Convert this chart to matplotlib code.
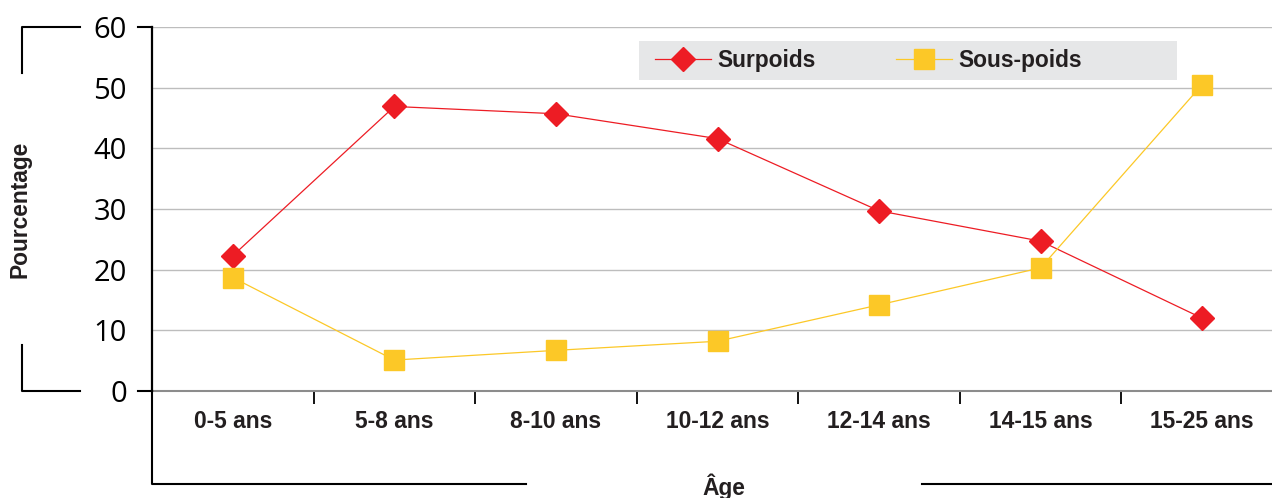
import matplotlib
matplotlib.use("Agg")
import matplotlib.pyplot as plt
from matplotlib.lines import Line2D
from matplotlib.patches import Rectangle
import numpy as np

categories = ["0-5 ans", "5-8 ans", "8-10 ans", "10-12 ans", "12-14 ans", "14-15 ans", "15-25 ans"]
surpoids = [22.3, 46.9, 45.7, 41.6, 29.7, 24.7, 12.0]
sous_poids = [18.7, 5.1, 6.7, 8.2, 14.2, 20.3, 50.5]
yticks = [0, 10, 20, 30, 40, 50, 60]

RED = "#ed1c24"
YEL = "#fcc827"
TXT = "#231f20"
W, H = 1272, 498
FS = 16.4

fig = plt.figure(figsize=(W / 100, H / 100), dpi=100)
L, R, T, B = 152, 1283, 27, 391
ax = fig.add_axes([L / W, 1 - B / H, (R - L) / W, (B - T) / H])

x = np.arange(len(categories))
ax.plot(x, surpoids, color=RED, lw=0.9, marker="D", ms=12.2, mec=RED, mfc=RED,
        label="Surpoids", zorder=3, clip_on=False)
ax.plot(x, sous_poids, color=YEL, lw=0.9, marker="s", ms=14.4, mec=YEL, mfc=YEL,
        label="Sous-poids", zorder=4, clip_on=False)

ax.set_xlim(-0.5, len(categories) - 0.5)
ax.set_ylim(0, 60)

# grid
for v in yticks[1:]:
    ax.axhline(v, color="#bdbdbd", lw=1.0, zorder=1)
ax.axhline(0, color="#8c8c8c", lw=1.5, zorder=2, clip_on=False)

for s in ["top", "right", "bottom"]:
    ax.spines[s].set_visible(False)
ax.spines["left"].set_color("#000000")
ax.spines["left"].set_linewidth(1.6)

ax.set_yticks(yticks)
ax.set_yticklabels([str(v) for v in yticks], fontsize=21, family="Open Sans", color="#000000")
ax.tick_params(axis="y", length=0, pad=18)
ax.set_xticks(x)
ax.set_xticklabels(categories, fontsize=FS, family="Liberation Sans", fontweight="bold", color=TXT)
ax.tick_params(axis="x", length=0, pad=14)
ax.set_xticks(np.arange(0.5, len(categories) - 0.5, 1), minor=True)
ax.tick_params(axis="x", which="minor", length=9.5, width=1.3, color="#000000")

# short y ticks at 0 and 60
for v in (0, 60):
    ax.plot([-0.5 - 14 / 161.6, -0.5], [v, v], color="#000000", lw=1.5, clip_on=False, zorder=5)

# decorations in figure coords
def fl(xs, ys, **kw):
    fig.add_artist(Line2D([a / W for a in xs], [1 - b / H for b in ys], color="#000000",
                          lw=1.5, **kw))

fl([22, 22, 80], [73, 27, 27])
fl([22, 22, 80], [345, 391, 391])
fl([152, 152, 526], [391, 484, 484])
fl([922, 1272], [484, 484])

fig.text(20 / W, 1 - 209 / H, "Pourcentage", rotation=90, ha="center", va="center",
         fontsize=FS, family="Liberation Sans", fontweight="bold", color=TXT)
fig.text(724 / W, 1 - 487 / H, "Âge", ha="center", va="center",
         fontsize=FS, family="Liberation Sans", fontweight="bold", color=TXT)

# legend background
ax.add_patch(Rectangle((639 / W, 1 - 80 / H), (1177 - 639) / W, 39 / H,
                       transform=fig.transFigure, facecolor="#e6e7e8", edgecolor="none",
                       zorder=1.5, clip_on=False))
leg = ax.legend(loc="center left", bbox_to_anchor=(655 / W, 1 - 60.5 / H),
                bbox_transform=fig.transFigure, ncol=2, frameon=False,
                prop={"family": "Liberation Sans", "weight": "bold", "size": FS},
                handlelength=2.45, handletextpad=0.27, columnspacing=3.55, borderpad=0,
                borderaxespad=0)
leg.set_zorder(6)
for t in leg.get_texts():
    t.set_color(TXT)

fig.savefig("out.png", dpi=100)
